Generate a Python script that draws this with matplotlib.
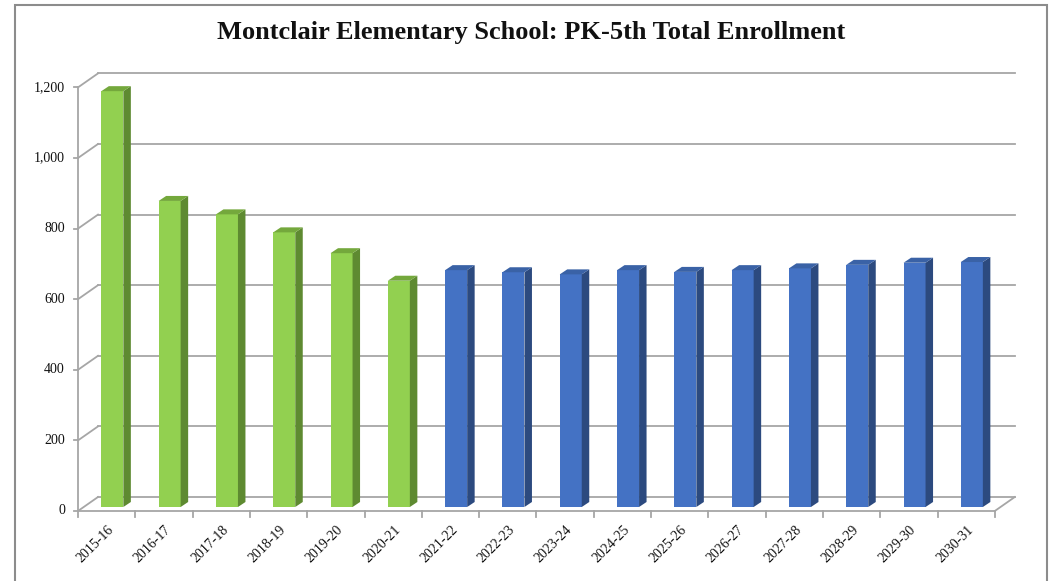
import matplotlib
matplotlib.use("Agg")
import matplotlib.pyplot as plt
from matplotlib.patches import Polygon, Rectangle
from matplotlib.lines import Line2D

# ---- data ----
categories = ["2015-16", "2016-17", "2017-18", "2018-19", "2019-20", "2020-21",
              "2021-22", "2022-23", "2023-24", "2024-25", "2025-26", "2026-27",
              "2027-28", "2028-29", "2029-30", "2030-31"]
actual_values = [1178, 867, 829, 778, 719, 641]
projected_values = [671, 665, 659, 671, 666, 671, 676, 686, 692, 694]
y_ticks = [0, 200, 400, 600, 800, 1000, 1200]
y_tick_labels = ["0", "200", "400", "600", "800", "1,000", "1,200"]
title = "Montclair Elementary School: PK-5th Total Enrollment"

# ---- styles ----
green_front, green_side, green_top = "#92D050", "#5E8A31", "#74A83C"
blue_front, blue_side, blue_top = "#4472C4", "#2C4A7F", "#3A62A6"
grid_col = "#a6a6a6"
FONT = "Liberation Serif"

W, H, DPI = 1057, 581, 100
fig = plt.figure(figsize=(W / DPI, H / DPI), dpi=DPI)

# axes = bar plane
x_left_px, x_right_px = 83.7, 1000.5
y_base_px, y_top_px = 507.0, 83.4
ax = fig.add_axes([x_left_px / W, (H - y_base_px) / H,
                   (x_right_px - x_left_px) / W, (y_base_px - y_top_px) / H])
n = len(categories)
ax.set_xlim(-0.5, n - 0.5)
ax.set_ylim(0, 1200)
ax.axis("off")

pxx = (x_right_px - x_left_px) / n       # px per category
pxy = (y_base_px - y_top_px) / 1200.0     # px per value unit

def off(dx_px, dy_px):
    return dx_px / pxx, dy_px / pxy

fdx, fdy = off(-5.7, -4.0)     # front plane
bdx, bdy = off(14.3, 10.0)     # back wall
ddx, ddy = off(7.5, 5.0)       # bar depth

xl, xr = -0.5, n - 0.5

# back wall gridlines
for v in y_ticks:
    ax.add_line(Line2D([xl + bdx, xr + bdx], [v + bdy, v + bdy], color=grid_col,
                       lw=1.3, zorder=1, clip_on=False))
    # left wall diagonals
    ax.add_line(Line2D([xl + fdx, xl + bdx], [v + fdy, v + bdy], color=grid_col,
                       lw=1.3, zorder=1, clip_on=False))
# front left vertical edge
ax.add_line(Line2D([xl + fdx, xl + fdx], [0 + fdy, 1200 + fdy], color=grid_col,
                   lw=1.3, zorder=1, clip_on=False))
# floor front edge and right diagonal
ax.add_line(Line2D([xl + fdx, xr + fdx], [fdy, fdy], color=grid_col, lw=1.3,
                   zorder=1, clip_on=False))
ax.add_line(Line2D([xr + fdx, xr + bdx], [fdy, bdy], color=grid_col, lw=1.3,
                   zorder=1, clip_on=False))

# y tick marks and labels
tk = 4.0 / pxx
for v, lab in zip(y_ticks, y_tick_labels):
    ax.add_line(Line2D([xl + fdx - tk, xl + fdx], [v + fdy, v + fdy], color=grid_col,
                       lw=1.3, clip_on=False))
    ax.text(xl + fdx - 13.0 / pxx, v + fdy, lab, ha="right", va="center",
            fontsize=10, family=FONT, color="#111111", clip_on=False)

# x tick marks and labels
tky = 5.5 / pxy
for i in range(n + 1):
    xb = i - 0.5 + fdx
    ax.add_line(Line2D([xb, xb], [fdy, fdy - tky], color=grid_col, lw=1.3,
                       clip_on=False))
for i, lab in enumerate(categories):
    ax.text(i + fdx + 0.5 / pxx, fdy - 12.0 / pxy, lab, ha="right", va="top",
            rotation=45, rotation_mode="anchor", fontsize=10, family=FONT,
            color="#111111", clip_on=False)

# bars
values = actual_values + projected_values
fronts = [green_front] * len(actual_values) + [blue_front] * len(projected_values)
sides = [green_side] * len(actual_values) + [blue_side] * len(projected_values)
tops = [green_top] * len(actual_values) + [blue_top] * len(projected_values)
bw = 0.384
xs = list(range(n))
bars = ax.bar(xs, values, width=bw, color=fronts, zorder=3, edgecolor="none")
for x, v, sc, tc in zip(xs, values, sides, tops):
    r = x + bw / 2
    l = x - bw / 2
    ax.add_patch(Polygon([(r, 0), (r + ddx, ddy), (r + ddx, v + ddy), (r, v)],
                         closed=True, facecolor=sc, edgecolor="none", zorder=3,
                         clip_on=False))
    ax.add_patch(Polygon([(l, v), (l + ddx, v + ddy), (r + ddx, v + ddy), (r, v)],
                         closed=True, facecolor=tc, edgecolor="none", zorder=3,
                         clip_on=False))

# title
fig.text(531.5 / W, 1 - 32.0 / H, title, ha="center", va="center", fontsize=19,
         fontweight="bold", family=FONT, color="#111111")

# outer border
fig.add_artist(Rectangle((14.5 / W, -0.05), (1047 - 14.5) / W, 1.05 - 5.5 / H,
                         transform=fig.transFigure, fill=False, edgecolor="#8c8c8c",
                         lw=1.5, clip_on=False))

fig.savefig("out.png", dpi=DPI)
